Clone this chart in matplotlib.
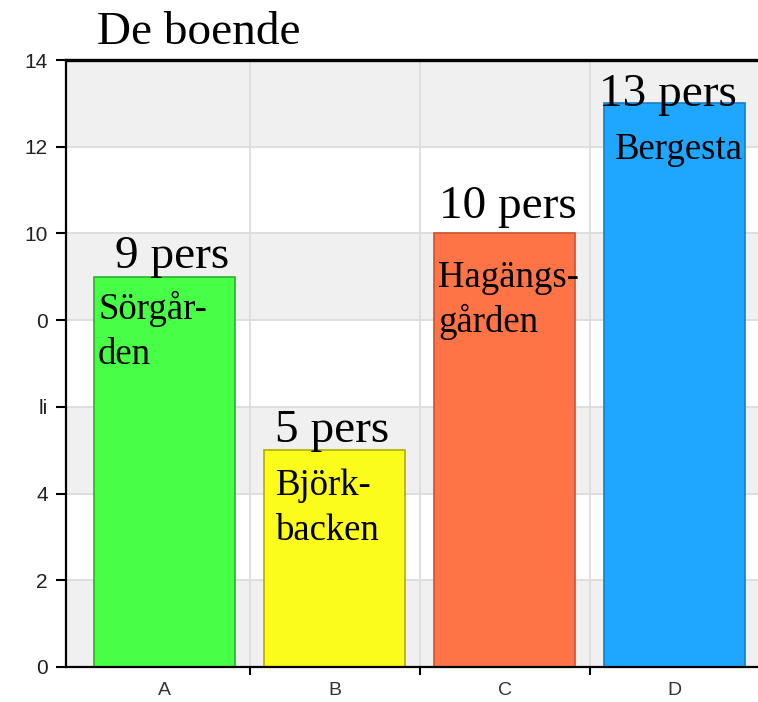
import matplotlib
matplotlib.use('Agg')
import matplotlib.pyplot as plt
from matplotlib.ticker import FixedLocator

categories = ['A', 'B', 'C', 'D']
values = [9, 5, 10, 13]
value_labels = ['9 pers', '5 pers', '10 pers', '13 pers']
names = ['Sörgår-\nden', 'Björk-\nbacken', 'Hagängs-\ngården', 'Bergesta']
colors = ['#46ff46', '#fbfb1c', '#ff7447', '#1fa6ff']
edges = ['#2fb02f', '#b0b000', '#c8552f', '#1580c8']
ytick_values = [0, 2, 4, 6, 8, 10, 12, 14]
ytick_labels = ['0', '2', '4', 'li', '0', '10', '12', '14']
title = 'De boende'

# layout (pixel offsets): first-line baseline below bar top
val_off = [(8, 9), (-3, 8), (3, 15), (-7, -3)]
name_off = [(4, 42), (12, 45), (4, 54), (11, 56)]
line_gap = 45

serif = 'Liberation Serif'
name_fs = 26.5

fig = plt.figure(figsize=(7.58, 7.02), dpi=100)
ax = fig.add_axes([66 / 758, 35 / 702, 692 / 758, 607 / 702])
xs = list(range(len(categories)))
ax.set_xlim(-0.58, 3.49)
ax.set_ylim(0, 14)

for lo in [0, 4, 8, 12]:
    ax.axhspan(lo, lo + 2, color='#f0f0f0', zorder=0, lw=0)
for yv in ytick_values[1:-1]:
    ax.axhline(yv, color='#dcdcdc', lw=1.3, zorder=1)
for b in [0.5, 1.5, 2.5]:
    ax.axvline(b, color='#dcdcdc', lw=1.3, zorder=1)

width = 0.83
ax.bar(xs, values, width=width, color=colors, edgecolor=edges, linewidth=1.2, zorder=2)

for i, v in enumerate(values):
    dx, dy = val_off[i]
    ax.annotate(value_labels[i], xy=(xs[i], v), xytext=(dx, dy), textcoords='offset pixels',
                ha='center', va='baseline', fontsize=34, family=serif, color='black', zorder=4)
    nx, ny = name_off[i]
    for k, line in enumerate(names[i].split('\n')):
        ax.annotate(line, xy=(xs[i] - width / 2, v), xytext=(nx, -ny - k * line_gap),
                    textcoords='offset pixels', ha='left', va='baseline', fontsize=name_fs,
                    family=serif, color='black', zorder=4)

ax.yaxis.set_major_locator(FixedLocator(ytick_values))
ax.set_yticklabels(ytick_labels)
ax.tick_params(axis='y', length=7, width=1.5, colors='black', labelcolor='#222222',
               labelsize=15, pad=6)
for lab in ax.get_yticklabels():
    lab.set_family('Liberation Sans')

ax.xaxis.set_major_locator(FixedLocator([0.5, 1.5, 2.5]))
ax.xaxis.set_minor_locator(FixedLocator(xs))
ax.set_xticklabels([], minor=False)
ax.set_xticklabels(categories, minor=True)
ax.tick_params(axis='x', which='major', length=6, width=1.5, color='black')
ax.tick_params(axis='x', which='minor', length=0, labelsize=14, labelcolor='#333333', pad=11)
for lab in ax.get_xticklabels(minor=True):
    lab.set_family('Liberation Sans')

ax.spines['top'].set_linewidth(2.4)
ax.spines['left'].set_linewidth(1.6)
ax.spines['bottom'].set_linewidth(1.6)
ax.spines['right'].set_visible(False)
for s in ['top', 'left', 'bottom']:
    ax.spines[s].set_color('black')
    ax.spines[s].set_zorder(5)

fig.text(97 / 758, 1 - 44 / 702, title, ha='left', va='baseline', fontsize=34, family=serif)

fig.savefig('out.png', dpi=100)
